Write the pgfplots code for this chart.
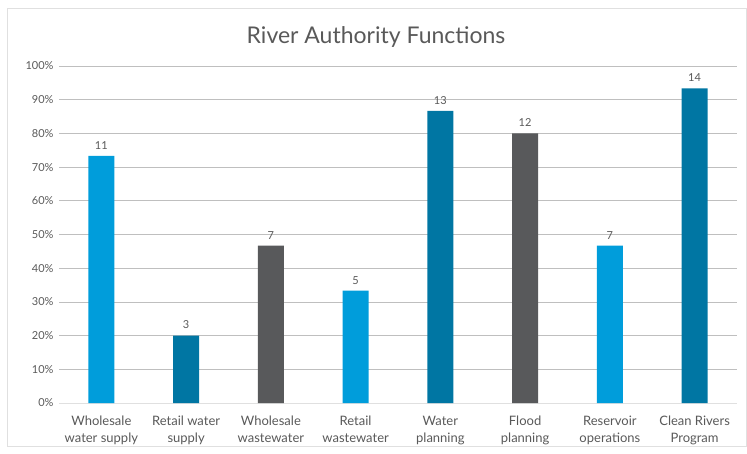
\documentclass[border=0pt]{standalone}
\usepackage{pgfplots}
\pgfplotsset{compat=1.18}
\usepackage{fontspec}
\setmainfont{Lato}
\definecolor{lblue}{HTML}{009DDB}
\definecolor{dblue}{HTML}{0076A3}
\definecolor{dgray}{HTML}{58595B}
\definecolor{txt}{HTML}{595959}
\definecolor{grid}{HTML}{E0E0E0}
\begin{document}
\begin{tikzpicture}[x=1pt,y=1pt]
\path[use as bounding box] (0,0) rectangle (747,453);
\draw[grid, line width=0.8pt] (7,7) rectangle (746.5,445);
\node[txt, font=\fontsize{23}{26}\selectfont] at (376,416) {River Authority Functions};
\begin{axis}[
  at={(59pt,50pt)}, anchor=south west,
  scale only axis, width=678pt, height=337pt,
  xmin=-0.5, xmax=7.5, ymin=0, ymax=100,
  ytick={0,10,...,100},
  yticklabel={\pgfmathprintnumber{\tick}\%},
  /pgf/number format/assume math mode=true,
  yticklabel style={txt, font=\fontsize{11}{13}\selectfont, xshift=-2pt},
  ymajorgrids, xmajorgrids=false, grid style={grid, line width=0.8pt},
  separate axis lines,
  axis x line*=bottom, axis y line*=left,
  x axis line style={grid, line width=0.8pt, -},
  y axis line style={draw=none},
  xtick={0,...,7}, tick style={draw=none},
  xticklabels={Wholesale\\water supply, Retail water\\supply, Wholesale\\wastewater, Retail\\wastewater, Water\\planning, Flood\\planning, Reservoir\\operations, Clean Rivers\\Program},
  xticklabel style={txt, font=\fontsize{13}{17.5}\selectfont, align=center, yshift=-5pt},
  ybar, bar width=26pt, bar shift=0pt,
  nodes near coords={\pgfplotspointmeta},
  point meta=explicit symbolic,
  nodes near coords style={txt, font=\fontsize{11}{13}\selectfont, yshift=3pt},
]
\addplot[fill=lblue, draw=none] coordinates {(0,73.33)[11] (3,33.33)[5] (6,46.67)[7]};
\addplot[fill=dblue, draw=none] coordinates {(1,20)[3] (4,86.67)[13] (7,93.33)[14]};
\addplot[fill=dgray, draw=none] coordinates {(2,46.67)[7] (5,80)[12]};
\end{axis}
\end{tikzpicture}
\end{document}
